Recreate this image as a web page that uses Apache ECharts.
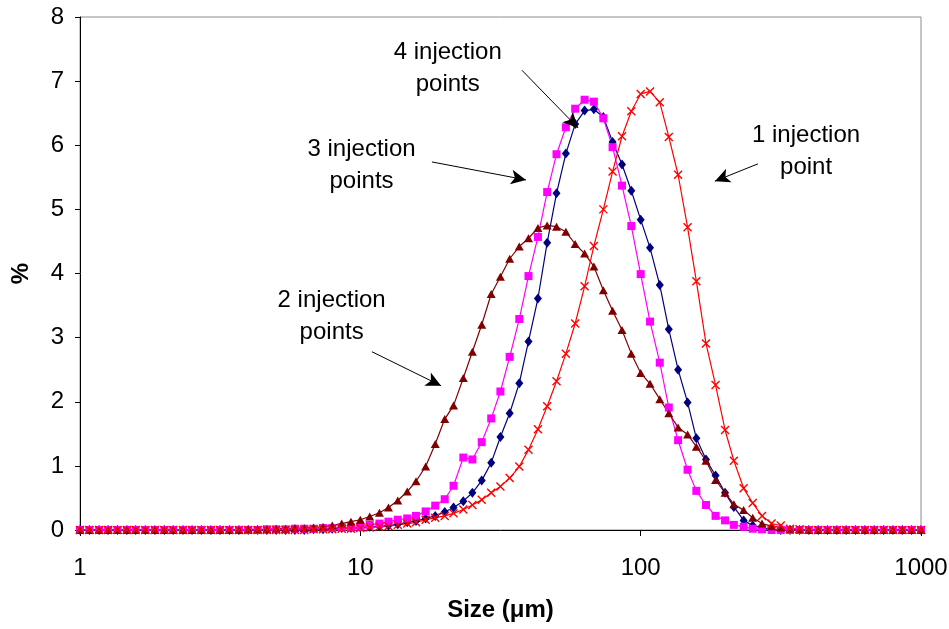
<!DOCTYPE html>
<html>
<head>
<meta charset="utf-8">
<script src="https://cdn.jsdelivr.net/npm/echarts@6/dist/echarts.min.js"></script>
<style>
  html, body { margin: 0; padding: 0; background: #fff; }
  #chart { width: 949px; height: 629px; }
</style>
</head>
<body>
<div id="chart"></div>
<script>
// Particle size bins (µm), 30 per decade from 1 to 1000
const sizes = [
  1, 1.08, 1.17, 1.26, 1.36, 1.47, 1.58, 1.71, 1.85, 2.00,
  2.15, 2.33, 2.51, 2.71, 2.93, 3.16, 3.41, 3.69, 3.98, 4.30,
  4.64, 5.01, 5.41, 5.84, 6.31, 6.81, 7.36, 7.94, 8.58, 9.26,
  10, 10.8, 11.7, 12.6, 13.6, 14.7, 15.8, 17.1, 18.5, 20.0,
  21.5, 23.3, 25.1, 27.1, 29.3, 31.6, 34.1, 36.9, 39.8, 43.0,
  46.4, 50.1, 54.1, 58.4, 63.1, 68.1, 73.6, 79.4, 85.8, 92.6,
  100, 108, 117, 126, 136, 147, 158, 171, 185, 200,
  215, 233, 251, 271, 293, 316, 341, 369, 398, 430,
  464, 501, 541, 584, 631, 681, 736, 794, 858, 926,
  1000
];

// Volume fraction (%) per bin for each injection configuration
const fourPoints = [
  0, 0, 0, 0, 0, 0, 0, 0, 0, 0,
  0, 0, 0, 0, 0, 0, 0, 0, 0, 0,
  0, 0, 0, 0, 0, 0.01, 0.01, 0.02, 0.03, 0.03,
  0.04, 0.05, 0.06, 0.07, 0.09, 0.12, 0.14, 0.18, 0.22, 0.28,
  0.35, 0.45, 0.58, 0.77, 1.05, 1.45, 1.82, 2.29, 2.94, 3.61,
  4.48, 5.25, 5.87, 6.33, 6.54, 6.56, 6.44, 6.05, 5.70, 5.29,
  4.84, 4.40, 3.82, 3.13, 2.50, 1.99, 1.43, 1.10, 0.85, 0.58,
  0.36, 0.15, 0.07, 0.03, 0.01, 0, 0, 0, 0, 0,
  0, 0, 0, 0, 0, 0, 0, 0, 0, 0,
  0
];
const threePoints = [
  0, 0, 0, 0, 0, 0, 0, 0, 0, 0,
  0, 0, 0, 0, 0, 0, 0, 0, 0, 0,
  0.01, 0.01, 0.01, 0.02, 0.02, 0.02, 0.03, 0.03, 0.04, 0.04,
  0.05, 0.08, 0.10, 0.13, 0.16, 0.18, 0.22, 0.29, 0.38, 0.48,
  0.69, 1.13, 1.10, 1.37, 1.74, 2.16, 2.70, 3.29, 3.96, 4.57,
  5.27, 5.86, 6.28, 6.57, 6.71, 6.68, 6.42, 5.97, 5.37, 4.74,
  3.99, 3.25, 2.61, 1.91, 1.40, 0.94, 0.61, 0.39, 0.22, 0.15,
  0.08, 0.05, 0.02, 0.01, 0, 0, 0, 0, 0, 0,
  0, 0, 0, 0, 0, 0, 0, 0, 0, 0,
  0
];
const twoPoints = [
  0, 0, 0, 0, 0, 0, 0, 0, 0, 0,
  0, 0, 0, 0, 0, 0, 0, 0, 0.01, 0.01,
  0.01, 0.02, 0.02, 0.03, 0.03, 0.04, 0.05, 0.07, 0.10, 0.13,
  0.16, 0.21, 0.27, 0.35, 0.46, 0.60, 0.76, 0.99, 1.34, 1.73,
  1.94, 2.37, 2.78, 3.20, 3.68, 3.95, 4.23, 4.42, 4.55, 4.71,
  4.75, 4.73, 4.65, 4.46, 4.31, 4.11, 3.74, 3.42, 3.12, 2.75,
  2.45, 2.28, 2.04, 1.82, 1.60, 1.49, 1.30, 1.08, 0.78, 0.58,
  0.40, 0.31, 0.19, 0.10, 0.06, 0.04, 0.02, 0.01, 0, 0,
  0, 0, 0, 0, 0, 0, 0, 0, 0, 0,
  0
];
const onePoint = [
  0, 0, 0, 0, 0, 0, 0, 0, 0, 0,
  0, 0, 0, 0, 0, 0, 0, 0, 0, 0,
  0, 0, 0, 0, 0, 0.01, 0.01, 0.01, 0.02, 0.02,
  0.03, 0.04, 0.05, 0.06, 0.08, 0.10, 0.12, 0.16, 0.19, 0.22,
  0.26, 0.32, 0.39, 0.47, 0.58, 0.68, 0.81, 0.99, 1.25, 1.57,
  1.93, 2.32, 2.75, 3.22, 3.80, 4.43, 5.00, 5.59, 6.14, 6.53,
  6.80, 6.84, 6.67, 6.13, 5.54, 4.72, 3.88, 2.91, 2.26, 1.56,
  1.08, 0.65, 0.42, 0.22, 0.10, 0.07, 0.02, 0.01, 0, 0,
  0, 0, 0, 0, 0, 0, 0, 0, 0, 0,
  0
];

// Axis tick values
const yTicks = [0, 1, 2, 3, 4, 5, 6, 7, 8];
const xTicks = [1, 10, 100, 1000];

// Annotation texts, their anchor (size, %) and arrow start/end in data units
const notes = [
  { text: '4 injection\npoints', at: [20.5, 7.20], from: [37.7, 7.17], to: [59.8, 6.27] },
  { text: '3 injection\npoints', at: [10.1, 5.68], from: [18.0, 5.74], to: [39.0, 5.46] },
  { text: '2 injection\npoints', at: [7.9, 3.33], from: [11.0, 2.78], to: [19.4, 2.25] },
  { text: '1 injection\npoint', at: [389, 5.90], from: [262, 5.71], to: [184, 5.44] }
];

const FONT = '"Liberation Sans", Arial, sans-serif';
const FS = 24;
const pairs = vals => sizes.map((s, i) => [s, vals[i]]);

const crossPath = 'path://M0,0L10,10M10,0L0,10';

function lineSeries(name, vals, color, symbol, symbolSize, extra) {
  return Object.assign({
    name: name,
    type: 'line',
    data: pairs(vals),
    symbol: symbol,
    symbolSize: symbolSize,
    showAllSymbol: true,
    smooth: false,
    lineStyle: { color: color, width: 1.2 },
    itemStyle: { color: color, borderColor: color, borderWidth: 0 },
    emphasis: { disabled: true },
    silent: true,
    animation: false
  }, extra || {});
}

const chart = echarts.init(document.getElementById('chart'), null, { renderer: 'canvas' });

const option = {
  backgroundColor: '#ffffff',
  animation: false,
  grid: {
    left: 80, right: 28, top: 17, bottom: 99,
    outerBoundsMode: 'none',
    containLabel: false,
    show: true, borderColor: '#8c8c8c', borderWidth: 1, backgroundColor: 'transparent'
  },
  xAxis: {
    type: 'log',
    logBase: 10,
    min: xTicks[0],
    max: xTicks[xTicks.length - 1],
    name: 'Size (\u03bcm)',
    nameLocation: 'middle',
    nameGap: 68,
    nameTextStyle: { fontFamily: FONT, fontSize: FS, fontWeight: 'bold', color: '#000' },
    axisLine: { show: true, lineStyle: { color: '#000', width: 1 } },
    axisTick: { show: true, length: 6, lineStyle: { color: '#000' } },
    minorTick: { show: false },
    splitLine: { show: false },
    axisLabel: {
      fontFamily: FONT, fontSize: FS, color: '#000', margin: 26,
      formatter: v => String(Math.round(v))
    }
  },
  yAxis: {
    type: 'value',
    min: yTicks[0],
    max: yTicks[yTicks.length - 1],
    interval: 1,
    name: '%',
    nameLocation: 'middle',
    nameRotate: 90,
    nameGap: 47,
    nameTextStyle: { fontFamily: FONT, fontSize: FS, fontWeight: 'bold', color: '#000' },
    axisLine: { show: true, lineStyle: { color: '#000', width: 1 } },
    axisTick: { show: true, length: 5, lineStyle: { color: '#000' } },
    splitLine: { show: false },
    axisLabel: { fontFamily: FONT, fontSize: FS, color: '#000', margin: 16 }
  },
  series: [
    lineSeries('4 injection points', fourPoints, '#000080', 'diamond', [8, 10]),
    lineSeries('3 injection points', threePoints, '#ff00ff', 'rect', 8),
    lineSeries('2 injection points', twoPoints, '#800000', 'triangle', [9, 8]),
    lineSeries('1 injection point', onePoint, '#ff0000', crossPath, 8, {
      itemStyle: { color: '#ff0000', borderColor: '#ff0000', borderWidth: 1.4 }
    }),
    {
      name: 'arrows',
      type: 'line',
      data: [],
      silent: true,
      animation: false,
      markLine: {
        silent: true,
        animation: false,
        symbol: ['none', 'arrow'],
        symbolSize: [11, 15],
        label: { show: false },
        lineStyle: { color: '#000', width: 1, type: 'solid' },
        emphasis: { disabled: true },
        data: notes.map(n => [{ coord: n.from }, { coord: n.to }])
      }
    }
  ]
};

chart.setOption(option);

// Place annotation texts at their data anchors
const graphics = notes.map(n => {
  const p = chart.convertToPixel({ gridIndex: 0 }, n.at);
  return {
    type: 'text',
    x: p[0],
    y: p[1],
    silent: true,
    style: {
      text: n.text,
      fontFamily: FONT,
      fontSize: FS,
      lineHeight: 32,
      fill: '#000',
      align: 'center',
      verticalAlign: 'middle'
    }
  };
});
chart.setOption({ graphic: graphics });
</script>
</body>
</html>
